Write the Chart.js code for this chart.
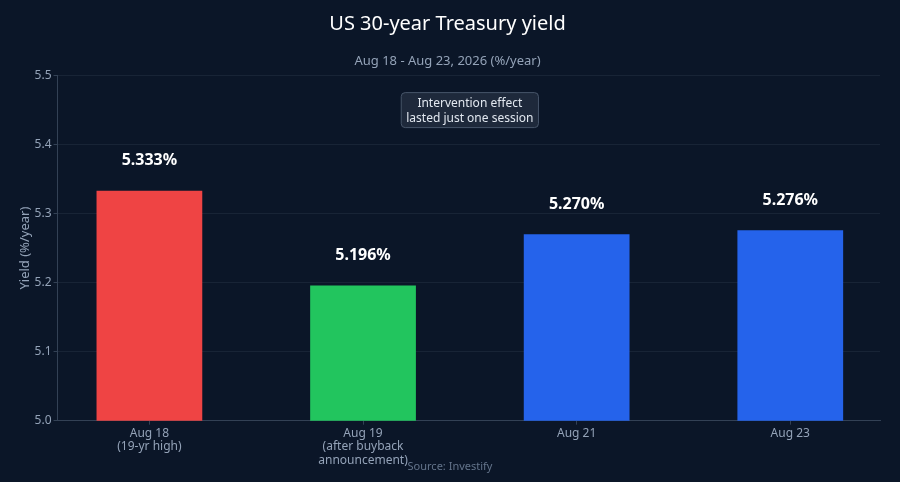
<!DOCTYPE html>
<html>
<head>
<meta charset="utf-8">
<script src="https://cdn.jsdelivr.net/npm/chart.js@4"></script>
<style>
  html, body { margin: 0; padding: 0; background: #0b1628; }
  #wrap { width: 900px; height: 482px; position: relative; }
</style>
</head>
<body>
<div id="wrap"><canvas id="chart"></canvas></div>
<script>
const categories = [['Aug 18', '(19-yr high)'], ['Aug 19', '(after buyback', 'announcement)'], ['Aug 21'], ['Aug 23']];
const yields = [5.333, 5.196, 5.270, 5.276];
const barColors = ['#ef4444', '#22c55e', '#2563eb', '#2563eb'];
const yTicks = [5.0, 5.1, 5.2, 5.3, 5.4, 5.5];
const noteLines = ['Intervention effect', 'lasted just one session'];
const sourceText = 'Source: Investify';

const FONT = "'Noto Sans', sans-serif";
const muted = '#94a3b8';

// value labels above each bar
const valueLabels = {
  id: 'valueLabels',
  afterDatasetsDraw(chart) {
    const ctx = chart.ctx;
    const meta = chart.getDatasetMeta(0);
    ctx.save();
    ctx.fillStyle = '#ffffff';
    ctx.font = 'bold 16px ' + FONT;
    ctx.textAlign = 'center';
    ctx.textBaseline = 'middle';
    meta.data.forEach((bar, i) => {
      ctx.fillText(yields[i].toFixed(3) + '%', bar.x, bar.y - 30);
    });
    ctx.restore();
  }
};

// note box + source line
const extras = {
  id: 'extras',
  afterDraw(chart) {
    const ctx = chart.ctx;
    const y = chart.scales.y;
    const cx = chart.scales.x.getPixelForValue(1.5);
    const cy = y.getPixelForValue(5.45);
    ctx.save();
    ctx.font = '12px ' + FONT;
    const w = Math.max(...noteLines.map(t => ctx.measureText(t).width)) + 10;
    const h = 35;
    ctx.beginPath();
    ctx.roundRect(cx - w / 2, cy - h / 2, w, h, 4);
    ctx.fillStyle = '#1e293b';
    ctx.fill();
    ctx.strokeStyle = '#475569';
    ctx.lineWidth = 1;
    ctx.stroke();
    ctx.fillStyle = '#e2e8f0';
    ctx.textAlign = 'center';
    ctx.textBaseline = 'middle';
    ctx.fillText(noteLines[0], cx, cy - 7);
    ctx.fillText(noteLines[1], cx, cy + 8);

    ctx.font = '11px ' + FONT;
    ctx.fillStyle = '#64748b';
    ctx.fillText(sourceText, chart.width / 2, chart.height - 15);
    ctx.restore();
  }
};

new Chart(document.getElementById('chart'), {
  type: 'bar',
  data: {
    datasets: [{
      data: yields.map((v, i) => ({ x: i, y: v })),
      backgroundColor: barColors,
      borderWidth: 0,
      barPercentage: 0.495,
      categoryPercentage: 1
    }]
  },
  options: {
    responsive: true,
    maintainAspectRatio: false,
    animation: false,
    layout: { padding: { left: 15, right: 20, top: 0, bottom: 13 } },
    plugins: {
      legend: { display: false },
      tooltip: { enabled: false },
      title: {
        display: true,
        text: 'US 30-year Treasury yield',
        color: '#ffffff',
        font: { family: FONT, size: 20, weight: 'normal' },
        padding: { top: 12, bottom: 17 }
      },
      subtitle: {
        display: true,
        text: 'Aug 18 - Aug 23, 2026 (%/year)',
        color: muted,
        font: { family: FONT, size: 13 },
        padding: { top: 0, bottom: 7 }
      }
    },
    scales: {
      y: {
        min: 5.0,
        max: 5.5,
        afterBuildTicks(axis) { axis.ticks = yTicks.map(v => ({ value: v })); },
        grid: { color: 'rgba(148,163,184,0.1)', tickColor: '#334155', tickLength: 4 },
        border: { color: '#334155' },
        ticks: {
          color: muted,
          font: { family: FONT, size: 12 },
          padding: 2,
          callback: v => Number(v).toFixed(1)
        },
        title: {
          display: true,
          text: 'Yield (%/year)',
          color: muted,
          font: { family: FONT, size: 13 },
          padding: { top: 2, bottom: 0 }
        }
      },
      x: {
        type: 'linear',
        min: -0.43,
        max: 3.42,
        offset: false,
        afterBuildTicks(axis) { axis.ticks = categories.map((c, i) => ({ value: i })); },
        grid: { display: true, offset: false, drawOnChartArea: false, tickColor: '#334155', tickLength: 4 },
        border: { color: '#334155' },
        ticks: {
          color: muted,
          font: { family: FONT, size: 12, lineHeight: 1.12 },
          padding: 2,
          maxRotation: 0,
          callback: (v) => categories[v] || ''
        }
      }
    }
  },
  plugins: [valueLabels, extras]
});
</script>
</body>
</html>
